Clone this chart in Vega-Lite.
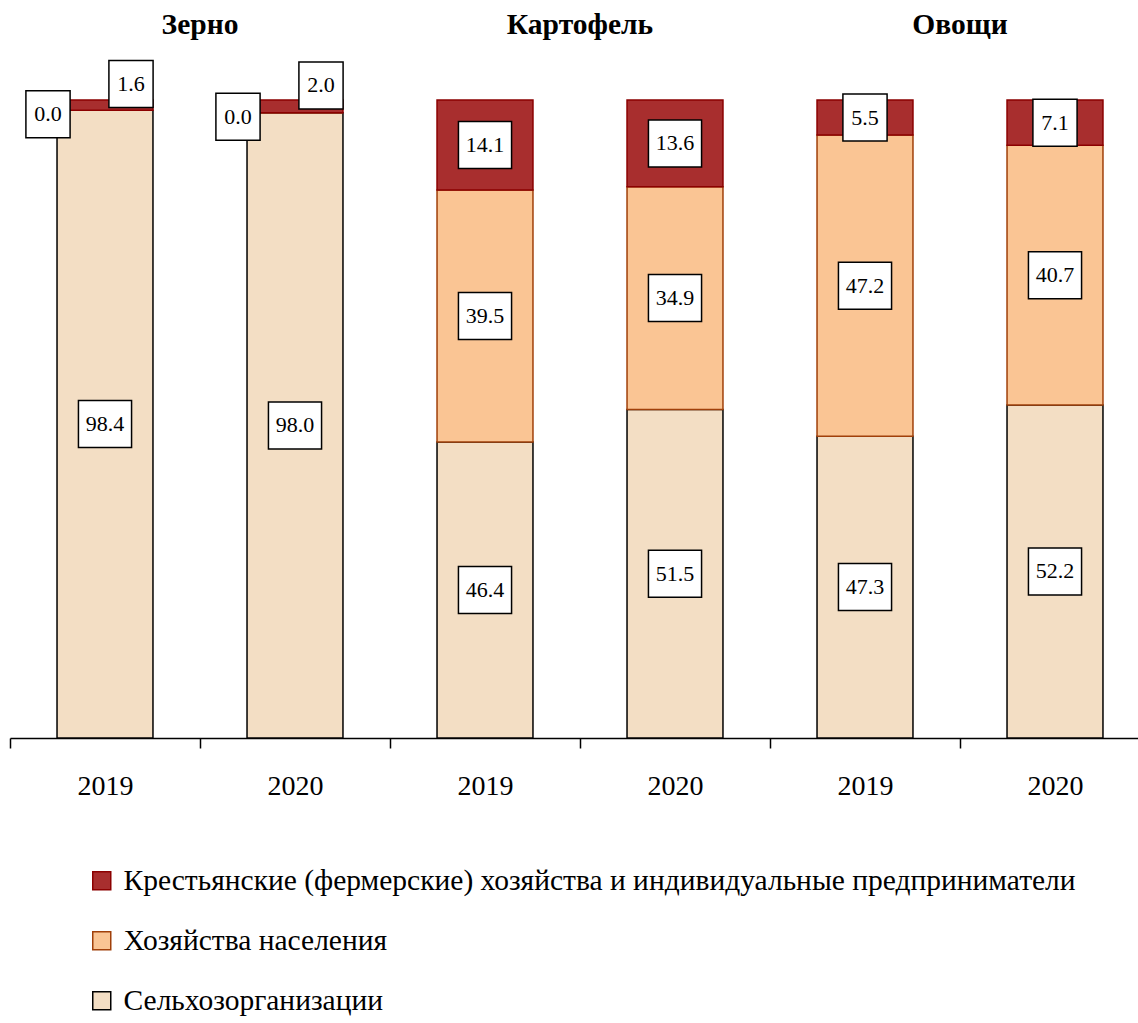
{
  "$schema": "https://vega.github.io/schema/vega-lite/v6.json",
  "width": 1128,
  "height": 638,
  "autosize": "none",
  "padding": {"left": 10, "top": 100, "right": 0, "bottom": 285},
  "background": "white",
  "config": {"view": {"stroke": null}, "font": "Times New Roman, Liberation Serif, serif"},
  "data": {
    "values": [
      {"crop": "Зерно", "year": "2019", "category": "Сельхозорганизации", "value": 98.4},
      {"crop": "Зерно", "year": "2019", "category": "Хозяйства населения", "value": 0.0},
      {"crop": "Зерно", "year": "2019", "category": "Крестьянские (фермерские) хозяйства и индивидуальные предприниматели", "value": 1.6},
      {"crop": "Зерно", "year": "2020", "category": "Сельхозорганизации", "value": 98.0},
      {"crop": "Зерно", "year": "2020", "category": "Хозяйства населения", "value": 0.0},
      {"crop": "Зерно", "year": "2020", "category": "Крестьянские (фермерские) хозяйства и индивидуальные предприниматели", "value": 2.0},
      {"crop": "Картофель", "year": "2019", "category": "Сельхозорганизации", "value": 46.4},
      {"crop": "Картофель", "year": "2019", "category": "Хозяйства населения", "value": 39.5},
      {"crop": "Картофель", "year": "2019", "category": "Крестьянские (фермерские) хозяйства и индивидуальные предприниматели", "value": 14.1},
      {"crop": "Картофель", "year": "2020", "category": "Сельхозорганизации", "value": 51.5},
      {"crop": "Картофель", "year": "2020", "category": "Хозяйства населения", "value": 34.9},
      {"crop": "Картофель", "year": "2020", "category": "Крестьянские (фермерские) хозяйства и индивидуальные предприниматели", "value": 13.6},
      {"crop": "Овощи", "year": "2019", "category": "Сельхозорганизации", "value": 47.3},
      {"crop": "Овощи", "year": "2019", "category": "Хозяйства населения", "value": 47.2},
      {"crop": "Овощи", "year": "2019", "category": "Крестьянские (фермерские) хозяйства и индивидуальные предприниматели", "value": 5.5},
      {"crop": "Овощи", "year": "2020", "category": "Сельхозорганизации", "value": 52.2},
      {"crop": "Овощи", "year": "2020", "category": "Хозяйства населения", "value": 40.7},
      {"crop": "Овощи", "year": "2020", "category": "Крестьянские (фермерские) хозяйства и индивидуальные предприниматели", "value": 7.1}
    ]
  },
  "transform": [
    {"calculate": "datum.crop + ' ' + datum.year", "as": "key"},
    {"calculate": "indexof(['Сельхозорганизации','Хозяйства населения','Крестьянские (фермерские) хозяйства и индивидуальные предприниматели'], datum.category)", "as": "ord"},
    {"stack": "value", "groupby": ["key"], "sort": [{"field": "ord", "order": "ascending"}], "as": ["y0", "y1"]},
    {"calculate": "(datum.y0 + datum.y1) / 2", "as": "mid"},
    {"calculate": "format(datum.value, '.1f')", "as": "lab"},
    {"calculate": "length(datum.lab) >= 4", "as": "wide"},
    {"calculate": "datum.crop == 'Зерно' && datum.category != 'Сельхозорганизации'", "as": "special"}
  ],
  "encoding": {
    "x": {
      "field": "key",
      "type": "nominal",
      "scale": {
        "domain": ["Зерно 2019", "Зерно 2020", "Картофель 2019", "Картофель 2020", "Овощи 2019", "Овощи 2020"],
        "range": [0, 1140],
        "paddingInner": 0,
        "paddingOuter": 0
      },
      "axis": {
        "title": null,
        "labelAngle": 0,
        "labelExpr": "split(datum.label, ' ')[1]",
        "labelFont": "Times New Roman, Liberation Serif, serif",
        "labelFontSize": 28,
        "labelColor": "black",
        "labelPadding": 24,
        "domainColor": "black",
        "domainWidth": 1.5,
        "tickColor": "black",
        "tickWidth": 1.5,
        "tickSize": 10,
        "tickBand": "extent"
      }
    }
  },
  "layer": [
    {
      "mark": {"type": "bar", "strokeWidth": 1.5, "width": {"band": 0.505}},
      "encoding": {
        "y": {"field": "y0", "type": "quantitative", "scale": {"domain": [0, 100]}, "axis": null},
        "y2": {"field": "y1"},
        "color": {
          "field": "category",
          "type": "nominal",
          "scale": {
            "domain": ["Крестьянские (фермерские) хозяйства и индивидуальные предприниматели", "Хозяйства населения", "Сельхозорганизации"],
            "range": ["#A82E2E", "#FAC594", "#F3DEC4"]
          },
          "legend": {
            "title": null,
            "orient": "none",
            "legendX": 77,
            "legendY": 766,
            "symbolType": "square",
            "symbolSize": 324,
            "symbolStrokeWidth": 1.5,
            "symbolOpacity": 1,
            "labelFont": "Times New Roman, Liberation Serif, serif",
            "labelFontSize": 29.5,
            "labelColor": "black",
            "labelLimit": 1100,
            "labelOffset": 7,
            "rowPadding": 29
          }
        },
        "stroke": {
          "field": "category",
          "type": "nominal",
          "scale": {
            "domain": ["Крестьянские (фермерские) хозяйства и индивидуальные предприниматели", "Хозяйства населения", "Сельхозорганизации"],
            "range": ["#8B0000", "#A0400A", "#000000"]
          },
          "legend": null
        }
      }
    },
    {
      "transform": [{"filter": "!datum.special && datum.wide"}],
      "mark": {"type": "point", "shape": "M-1.13,-1L1.13,-1L1.13,1L-1.13,1Z", "size": 2209, "filled": true, "fill": "white", "stroke": "black", "strokeWidth": 1.5, "opacity": 1},
      "encoding": {"y": {"field": "mid", "type": "quantitative"}}
    },
    {
      "transform": [{"filter": "!datum.special && !datum.wide"}],
      "mark": {"type": "point", "shape": "M-0.94,-1L0.94,-1L0.94,1L-0.94,1Z", "size": 2209, "filled": true, "fill": "white", "stroke": "black", "strokeWidth": 1.5, "opacity": 1},
      "encoding": {"y": {"field": "mid", "type": "quantitative"}}
    },
    {
      "transform": [{"filter": "!datum.special"}],
      "mark": {"type": "text", "font": "Times New Roman, Liberation Serif, serif", "fontSize": 22, "color": "black", "baseline": "middle", "align": "center"},
      "encoding": {"y": {"field": "mid", "type": "quantitative"}, "text": {"field": "lab"}}
    },
    {
      "transform": [{"filter": "datum.special && datum.category == 'Хозяйства населения'"}],
      "mark": {"type": "point", "shape": "M-0.94,-1L0.94,-1L0.94,1L-0.94,1Z", "size": 2209, "filled": true, "fill": "white", "stroke": "black", "strokeWidth": 1.5, "opacity": 1, "xOffset": -57, "yOffset": 4},
      "encoding": {"y": {"field": "mid", "type": "quantitative"}}
    },
    {
      "transform": [{"filter": "datum.special && datum.category == 'Хозяйства населения'"}],
      "mark": {"type": "text", "font": "Times New Roman, Liberation Serif, serif", "fontSize": 22, "color": "black", "baseline": "middle", "align": "center", "dx": -57, "dy": 4},
      "encoding": {"y": {"field": "mid", "type": "quantitative"}, "text": {"field": "lab"}}
    },
    {
      "transform": [{"filter": "datum.special && datum.category != 'Хозяйства населения'"}],
      "mark": {"type": "point", "shape": "M-0.94,-1L0.94,-1L0.94,1L-0.94,1Z", "size": 2209, "filled": true, "fill": "white", "stroke": "black", "strokeWidth": 1.5, "opacity": 1, "xOffset": 26, "yOffset": -21},
      "encoding": {"y": {"field": "mid", "type": "quantitative"}}
    },
    {
      "transform": [{"filter": "datum.special && datum.category != 'Хозяйства населения'"}],
      "mark": {"type": "text", "font": "Times New Roman, Liberation Serif, serif", "fontSize": 22, "color": "black", "baseline": "middle", "align": "center", "dx": 26, "dy": -21},
      "encoding": {"y": {"field": "mid", "type": "quantitative"}, "text": {"field": "lab"}}
    },
    {
      "transform": [{"filter": "datum.year == '2020' && datum.ord == 0"}],
      "mark": {"type": "text", "font": "Times New Roman, Liberation Serif, serif", "fontSize": 29.5, "fontWeight": "bold", "color": "black", "baseline": "middle", "align": "center", "dy": -75},
      "encoding": {
        "x": {"field": "key", "type": "nominal", "bandPosition": 0},
        "y": {"datum": 100},
        "text": {"field": "crop"}
      }
    }
  ]
}
